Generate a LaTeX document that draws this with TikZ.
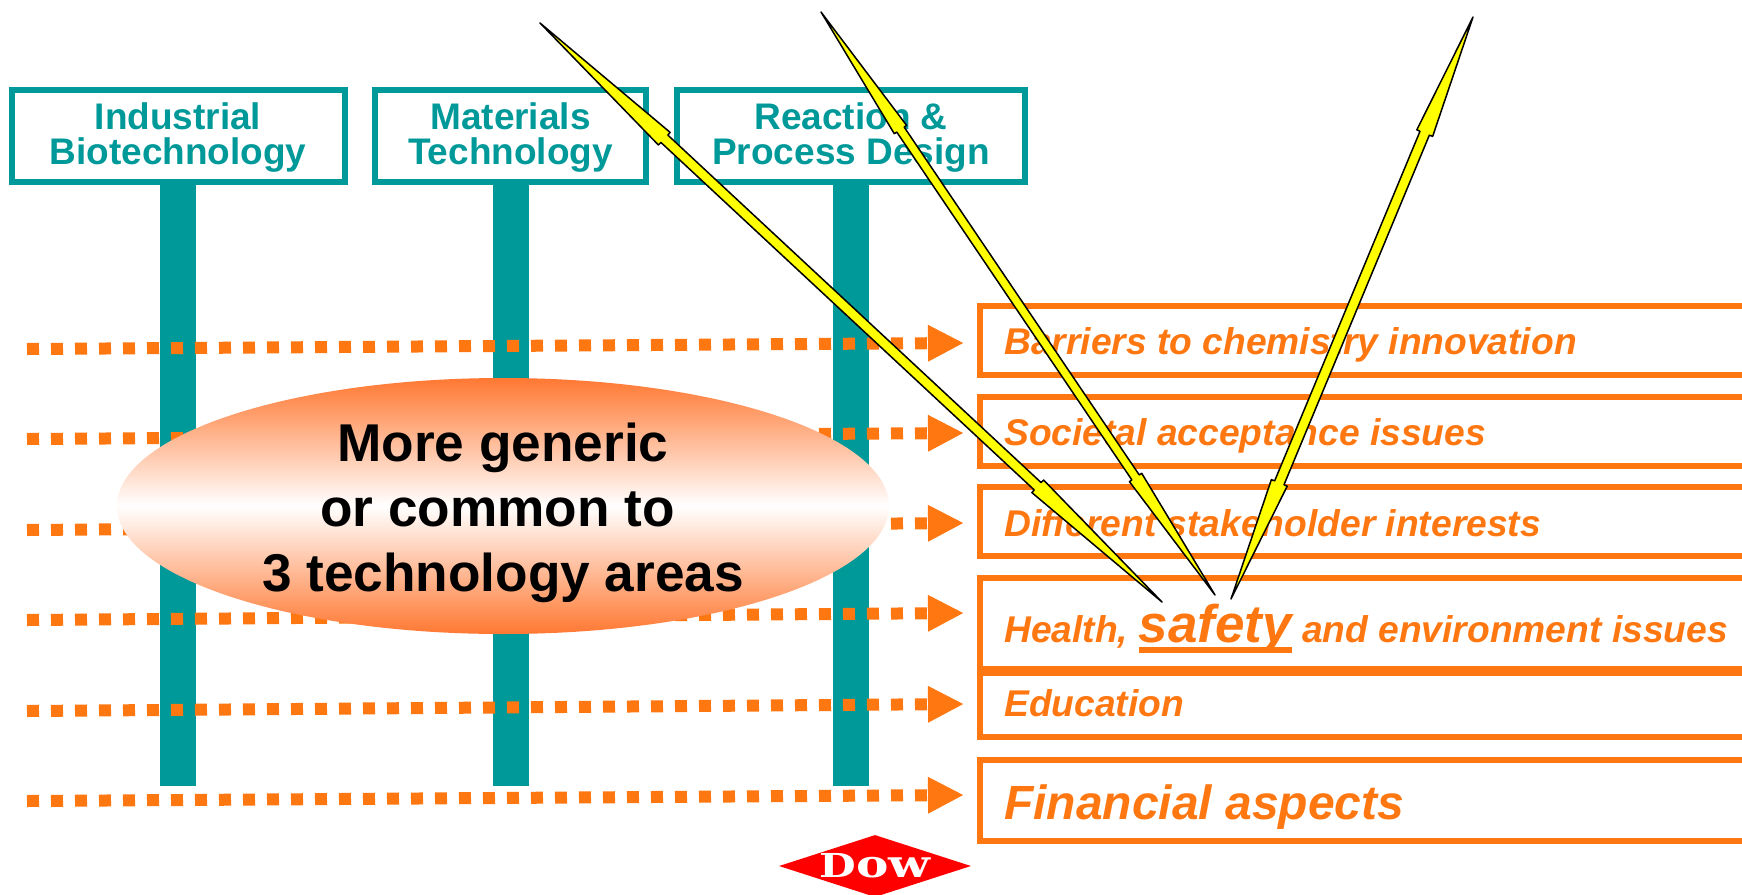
\documentclass[tikz,border=0pt]{standalone}
\usepackage{fontspec}
\setmainfont{Liberation Sans}
\newfontfamily\logofont{DejaVu Serif}
\usetikzlibrary{arrows.meta,calc,shapes.geometric}
\definecolor{techteal}{RGB}{0,153,153}
\definecolor{issueorange}{RGB}{255,119,17}
\definecolor{ellipseorange}{RGB}{255,120,50}
\definecolor{spikeyellow}{RGB}{255,255,0}
\tikzset{
  techbox/.style={draw=techteal, line width=6pt, fill=white, text=techteal, font=\fontsize{37}{35}\selectfont\bfseries, align=center, minimum height=92pt, inner sep=0pt},
  techbar/.style={draw=techteal, line width=36pt},
  issuebox/.style={draw=issueorange, line width=6pt, fill=white, minimum width=900pt, anchor=west, inner sep=0pt},
  issuetext/.style={text=issueorange, font=\fontsize{37.2}{37}\selectfont\bfseries\itshape, anchor=base west, inner sep=0pt},
  dotline/.style={draw=issueorange, line width=12pt, dash pattern=on 12pt off 12pt, -{Triangle[length=36pt,width=34pt,fill=issueorange]}},
  yarrow/.style={draw=black, fill=spikeyellow, line width=1.5pt, line join=round}
}
% double headed spike: ends, head length, head angle, shaft angle
\newcommand{\spike}[5]{
  \draw[yarrow] (#1) -- ($(#1)!#3pt!#4:(#2)$) -- ($(#1)!#3pt!#5:(#2)$)
    -- ($(#2)!#3pt!-#5:(#1)$) -- ($(#2)!#3pt!-#4:(#1)$) -- (#2)
    -- ($(#2)!#3pt!#4:(#1)$) -- ($(#2)!#3pt!#5:(#1)$)
    -- ($(#1)!#3pt!-#5:(#2)$) -- ($(#1)!#3pt!-#4:(#2)$) -- cycle;
}
\begin{document}
\begin{tikzpicture}[x=1pt, y=-1pt]
    \useasboundingbox (0,0) rectangle (1742,894);
    \fill[white] (0,0) rectangle (1742,894);
    % three technology columns
    \coordinate (biobase) at (178,786);
    \coordinate (matbase) at (510,786);
    \coordinate (reactbase) at (851,786);
    \node[techbox, minimum width=333pt] (bio) at (178,136) {\rule{0pt}{30.5pt}Industrial\\Biotechnology};
    \node[techbox, minimum width=271pt] (mat) at (510.5,136) {\rule{0pt}{30.5pt}Materials\\Technology};
    \node[techbox, minimum width=348pt] (react) at (851,136) {\rule{0pt}{30.5pt}Reaction \&\\Process Design};
    \draw[techbar] (bio.south) -- (bio.south |- biobase);
    \draw[techbar] (mat.south) -- (mat.south |- matbase);
    \draw[techbar] (react.south) -- (react.south |- reactbase);
    % issue rows
    \node[issuebox, minimum height=69pt] (barriers) at (977,340.5) {};
    \node[issuebox, minimum height=69pt] (societal) at (977,431.5) {};
    \node[issuebox, minimum height=69pt] (stake) at (977,521.5) {};
    \node[issuebox, minimum height=91pt] (health) at (977,623.5) {};
    \node[issuebox, minimum height=64pt] (educ) at (977,705) {};
    \node[issuebox, minimum height=81pt] (money) at (977,800.5) {};
    \node[issuetext] (barrierstxt) at (1004,354) {Barriers to chemistry innovation};
    \node[issuetext] (societaltxt) at (1004,445) {Societal acceptance issues};
    \node[issuetext] (staketxt) at (1004,536) {Different stakeholder interests};
    \node[issuetext] (healthtxt) at (1004,642) {Health, \vtop{\hbox{\smash{\fontsize{53}{53}\selectfont safety}}\kern5pt\hrule height 6pt} and environment issues};
    \node[issuetext] (eductxt) at (1004,716) {Education};
    \node[issuetext, font=\fontsize{48}{48}\selectfont\bfseries\itshape] (moneytxt) at (1004,819) {Financial aspects};
    % dotted arrows
    \foreach \ya/\yb/\rowname in {349/343/a, 439/433/b, 530/523/c, 620/613/d, 711/704/e, 801/795/f}{
      \coordinate (\rowname start) at (27,\ya);
      \coordinate (\rowname end) at (964,\yb);
      \draw[dotline] (\rowname start) -- (\rowname end);
    }
    % ellipse
    \node[ellipse, minimum width=772pt, minimum height=256pt, inner sep=0pt,
      top color=ellipseorange, bottom color=ellipseorange, middle color=white] (generic) at (503,506) {};
    \node[font=\fontsize{53.2}{65}\selectfont\bfseries, align=center, inner sep=0pt] (generictxt) at (503,512.5)
      {More generic\\or common to\rule{11pt}{0pt}\\3 technology areas};
    % logo
    \node[diamond, fill=red, aspect=3.1, minimum width=192pt, minimum height=62pt, inner sep=0pt,
      text=white] (dow) at (875,866) {\logofont\bfseries\scalebox{1.28}[1]{\fontsize{33}{33}\selectfont D\fontsize{38}{38}\selectfont ow}};
    % yellow arrows
    \coordinate (top1) at (540,23);
    \coordinate (top2) at (821,12);
    \coordinate (top3) at (1473,17);
    \coordinate (low1) at (1162,602);
    \coordinate (low2) at (1215,595);
    \coordinate (low3) at (1231,599);
    \spike{top1}{low1}{170}{2.9}{1.7}
    \spike{top2}{low2}{142}{3}{1.8}
    \spike{top3}{low3}{126}{3.9}{2.3}
\end{tikzpicture}
\end{document}
